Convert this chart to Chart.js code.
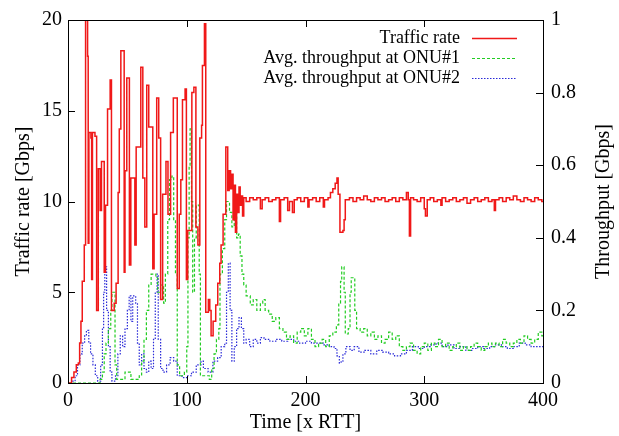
<!DOCTYPE html>
<html>
<head>
<meta charset="utf-8">
<script src="https://cdn.jsdelivr.net/npm/chart.js@4"></script>
<style>
  html, body { margin: 0; padding: 0; background: #fff; }
</style>
</head>
<body>
<canvas id="trafficChart" width="619" height="436"></canvas>
<script>
// Traffic rate (left axis, Gbps) - step points
const redT = [
  0, 3, 5, 7, 8.7, 9.8, 10.9, 12, 13.7, 14.8,
  16.5, 17, 17.6, 19.3, 19.9, 20.6, 22.7, 24.1, 25.5, 27.1,
  28.2, 30.5, 31.6, 33.3, 35.5, 36.6, 38.9, 40.5, 42.2, 43.2,
  44.5, 47.3, 48, 49.5, 51.7, 52.9, 56.3, 57.4, 61.3, 63,
  64.7, 66.3, 68, 71.4, 72.5, 74.7, 76.4, 78, 79.7, 82.5,
  84.2, 86.4, 88.7, 92, 93.7, 95, 96.4, 98.6, 99.7, 100.8,
  104.3, 106, 107.7, 109.4, 111, 112.5, 113.2, 114.9, 116, 118.2,
  119.4, 120.5, 122.2, 124.4, 126.1, 127.8, 128.9, 130.6, 132.9, 134.5,
  135.7, 136.9, 138, 139, 140, 141, 142, 143, 144, 145,
  146, 147, 148, 150, 153, 156, 159, 162, 163.5, 166,
  169, 172, 175, 178, 179, 182, 185, 186.5, 189, 190.5,
  193, 196, 199, 202, 203, 206, 209, 212, 215, 216,
  219, 221, 223, 225, 226.5, 227.5, 229, 231.5, 232.5, 233.5,
  237, 240, 243, 246, 249, 252, 255, 258, 261, 264,
  267, 270, 273, 276, 279, 282, 285, 286.5, 287.5, 288.5,
  291, 294, 297, 300, 301, 302.5, 305, 308, 311, 314,
  315, 318, 321, 324, 327, 330, 333, 336, 339, 342,
  345, 348, 351, 354, 357, 359, 360, 363, 366, 369,
  372, 375, 378, 381, 384, 387, 390, 393, 396, 399, 400
];
const redV = [
  0, 0.3, 0.6, 1.0, 1.1, 2.2, 3.4, 5.6, 7.6, 20,
  18, 7.7, 13.8, 13.5, 5.7, 13.8, 13.6, 4.0, 11.8, 9.5,
  12.2, 6.1, 9.8, 15.1, 16.7, 4.0, 4.4, 5.5, 10.5, 14,
  18.3, 6.1, 11.7, 16.8, 6.5, 11.3, 7.6, 13, 17.4, 11.3,
  8.6, 16.4, 14.1, 6.3, 9.3, 15.7, 13.5, 4.6, 10.4, 12.2,
  9.3, 13.8, 15.7, 5.2, 9.3, 11.2, 15.6, 16.2, 5.7, 8.4,
  16, 16.3, 8.6, 7.6, 13.5, 14.2, 17.5, 19.8, 3.9, 4.6,
  4.0, 2.6, 3.4, 4.3, 5.5, 6.6, 7.6, 9.3, 13, 10.6,
  11.7, 10.7, 11.5, 9.0, 10.9, 8.3, 10.4, 9.4, 10.8, 9.8,
  10.3, 9.2, 10.2, 10.0, 10.2, 10.1, 10.2, 9.6, 10.1, 10.2,
  10.0, 10.1, 10.2, 8.9, 10.1, 10.2, 9.5, 10.0, 9.4, 10.1,
  10.2, 10.0, 10.2, 9.7, 10.1, 10.2, 10.0, 10.2, 9.7, 10.1,
  10.2, 10.5, 10.7, 11.0, 11.3, 10.4, 8.3, 8.4, 9.0, 10.1,
  10.2, 10.0, 10.2, 10.1, 10.3, 10.1, 10.0, 10.2, 10.1, 10.2,
  10.0, 10.1, 10.2, 10.0, 10.2, 10.1, 10.5, 10.1, 8.1, 10.2,
  10.1, 10.0, 10.2, 9.6, 9.2, 10.1, 10.2, 10.0, 10.1, 9.8,
  10.2, 10.0, 10.1, 10.2, 10.0, 10.1, 10.2, 9.9, 10.1, 10.2,
  10.0, 10.1, 10.2, 10.0, 10.1, 9.5, 10.1, 10.2, 10.0, 10.2,
  10.1, 10.3, 10.1, 10.0, 10.2, 10.1, 10.0, 10.2, 10.1, 10.0, 10.0
];

// Avg. throughput at ONU#1 (right axis, Gbps)
const onu1T = [
  0, 27, 29, 30.5, 32, 34, 36, 37, 39.6, 41,
  48, 53, 60, 62, 64, 66, 68, 70, 74, 75.5,
  78, 80.5, 82, 84, 85.5, 87.5, 89, 90.5, 92, 94,
  98, 100, 101, 102, 102.8, 104, 105, 106.5, 108, 110.5,
  111.5, 119, 121, 123, 125, 127, 128, 130, 132, 133.5,
  136, 138, 140, 142, 143.5, 145, 146.5, 148, 150, 153.5,
  156, 159, 162, 164, 166, 169, 172, 175, 178, 181,
  184, 187, 190, 193, 196, 199, 202, 205, 208, 211,
  214, 217, 220, 223, 226, 228, 229.5, 230.5, 232.5, 233.5,
  236, 237.5, 238.5, 241.5, 243, 246, 249, 252, 255, 258,
  261, 264, 267, 270, 273, 276, 279, 282, 285, 288,
  291, 294, 297, 300, 303, 306, 309, 312, 315, 318,
  321, 324, 327, 330, 333, 336, 339, 342, 345, 348,
  351, 354, 357, 360, 363, 366, 369, 372, 375, 378,
  381, 384, 387, 390, 393, 396, 399, 400
];
const onu1V = [
  0, 0.01, 0.03, 0.08, 0.11, 0.15, 0.2, 0.25, 0.05, 0.01,
  0.03, 0.01, 0.02, 0.06, 0.12, 0.2, 0.27, 0.3, 0.29, 0.25,
  0.27, 0.22, 0.3, 0.45, 0.56, 0.57, 0.45, 0.3, 0.05, 0.02,
  0.03, 0.1, 0.4, 0.6, 0.7, 0.5, 0.25, 0.4, 0.49, 0.3,
  0.02, 0.01, 0.04, 0.08, 0.12, 0.15, 0.3, 0.37, 0.45, 0.5,
  0.47, 0.43, 0.47, 0.4, 0.41, 0.35, 0.3, 0.27, 0.24, 0.215,
  0.23, 0.2, 0.22, 0.23, 0.2, 0.19, 0.17, 0.18, 0.15, 0.14,
  0.12, 0.13, 0.11, 0.14, 0.15, 0.13, 0.15, 0.12, 0.1, 0.11,
  0.12, 0.1, 0.13, 0.14, 0.16, 0.22, 0.28, 0.32, 0.25, 0.135,
  0.15, 0.25, 0.29, 0.2, 0.15, 0.14, 0.15, 0.13, 0.14, 0.12,
  0.13, 0.11, 0.12, 0.14, 0.12, 0.13, 0.1, 0.09, 0.1, 0.11,
  0.09, 0.08, 0.1, 0.11, 0.09, 0.11, 0.1, 0.12, 0.1, 0.11,
  0.09, 0.1, 0.11, 0.09, 0.1, 0.09, 0.1, 0.11, 0.1, 0.09,
  0.1, 0.11, 0.1, 0.11, 0.1, 0.12, 0.11, 0.1, 0.11, 0.12,
  0.11, 0.13, 0.12, 0.11, 0.12, 0.14, 0.13, 0.13
];

// Avg. throughput at ONU#2 (right axis, Gbps)
const onu2T = [
  0, 3, 6, 8, 10, 12, 14, 15.5, 17.5, 19,
  21, 23, 25, 27.5, 29, 30, 31, 32.5, 34, 35.5,
  37, 40, 42, 44, 46, 48, 50, 51.5, 53, 54.5,
  57, 58.5, 60, 62, 64, 66, 68, 70, 72, 73.5,
  75, 76, 78, 80, 83, 86, 89, 92, 96, 100,
  104, 108, 112, 114, 118, 122, 126, 129, 132, 133.5,
  135, 136.5, 138, 140, 142, 144, 146, 148, 150, 153,
  156, 159, 162, 165, 170, 175, 180, 185, 190, 195,
  200, 205, 210, 215, 220, 224, 226.5, 228.5, 230, 231.5,
  234, 237.5, 241, 245, 250, 255, 260, 265, 270, 275,
  280, 285, 290, 295, 300, 305, 310, 315, 320, 325,
  330, 335, 340, 345, 350, 355, 360, 365, 370, 375,
  380, 385, 390, 395, 400
];
const onu2V = [
  0, 0.005, 0.02, 0.05, 0.08, 0.11, 0.13, 0.145, 0.11, 0.08,
  0.05, 0.02, 0.005, 0.05, 0.15, 0.25, 0.32, 0.2, 0.1, 0.03,
  0.005, 0.02, 0.08, 0.13, 0.1, 0.15, 0.2, 0.24, 0.17, 0.24,
  0.22, 0.11, 0.05, 0.08, 0.04, 0.03, 0.06, 0.04, 0.12, 0.25,
  0.3, 0.12, 0.04, 0.03, 0.05, 0.07, 0.06, 0.02, 0.015, 0.02,
  0.03, 0.05, 0.06, 0.04, 0.03, 0.06, 0.07, 0.1, 0.11, 0.25,
  0.33, 0.2, 0.06, 0.1, 0.15, 0.18, 0.15, 0.11, 0.12, 0.1,
  0.12, 0.11, 0.125, 0.12, 0.115, 0.12, 0.115, 0.12, 0.115, 0.11,
  0.115, 0.11, 0.11, 0.105, 0.1, 0.095, 0.075, 0.055, 0.06, 0.08,
  0.1, 0.09, 0.1, 0.085, 0.09, 0.08, 0.09, 0.085, 0.08, 0.075,
  0.08, 0.09, 0.1, 0.095, 0.1, 0.105, 0.11, 0.1, 0.105, 0.095,
  0.1, 0.09, 0.095, 0.1, 0.095, 0.1, 0.105, 0.1, 0.095, 0.1,
  0.11, 0.105, 0.1, 0.1, 0.1
];

const xTicks = [0, 100, 200, 300, 400];
const serif = 'Liberation Serif, Times New Roman, serif';
const rightTitle = 'Throughput [Gbps]';

const toPoints = (ts, vs) => ts.map((t, i) => ({ x: t, y: vs[i] }));

// gnuplot-style frame, inward ticks, key and right-hand axis title
const framePlugin = {
  id: 'frame',
  afterDatasetsDraw(chart) {
    const { ctx, chartArea: a, scales } = chart;
    const tl = 7;
    ctx.save();
    ctx.strokeStyle = '#000';
    ctx.lineWidth = 1;
    ctx.strokeRect(a.left + 0.5, a.top + 0.5, a.right - a.left, a.bottom - a.top);
    ctx.beginPath();
    scales.x.ticks.forEach(t => {
      const px = Math.round(scales.x.getPixelForValue(t.value)) + 0.5;
      ctx.moveTo(px, a.bottom); ctx.lineTo(px, a.bottom - tl);
      ctx.moveTo(px, a.top); ctx.lineTo(px, a.top + tl);
    });
    scales.y.ticks.forEach(t => {
      const py = Math.round(scales.y.getPixelForValue(t.value)) + 0.5;
      ctx.moveTo(a.left, py); ctx.lineTo(a.left + tl, py);
    });
    scales.y1.ticks.forEach(t => {
      const py = Math.round(scales.y1.getPixelForValue(t.value)) + 0.5;
      ctx.moveTo(a.right, py); ctx.lineTo(a.right - tl, py);
    });
    ctx.stroke();

    // key, top right inside the plot
    ctx.font = '18px ' + serif;
    ctx.fillStyle = '#000';
    ctx.textAlign = 'right';
    ctx.textBaseline = 'middle';
    chart.data.datasets.forEach((ds, i) => {
      const y = a.top + 18 + i * 20;
      ctx.fillText(ds.label, a.right - 83, y);
      ctx.beginPath();
      ctx.strokeStyle = ds.borderColor;
      ctx.lineWidth = ds.borderWidth;
      ctx.setLineDash(ds.borderDash || []);
      ctx.moveTo(a.right - 71, Math.round(y) + 0.5);
      ctx.lineTo(a.right - 26, Math.round(y) + 0.5);
      ctx.stroke();
    });

    // right axis title, reading bottom to top like the left one
    ctx.setLineDash([]);
    ctx.font = '20px ' + serif;
    ctx.textAlign = 'center';
    ctx.translate(604, (a.top + a.bottom) / 2);
    ctx.rotate(-Math.PI / 2);
    ctx.fillText(rightTitle, 0, 0);
    ctx.restore();
  }
};

const ctx = document.getElementById('trafficChart').getContext('2d');
new Chart(ctx, {
  type: 'line',
  data: {
    datasets: [
      {
        label: 'Traffic rate',
        data: toPoints(redT, redV),
        yAxisID: 'y',
        borderColor: '#f01818',
        borderWidth: 1.5,
        stepped: true,
        pointRadius: 0
      },
      {
        label: 'Avg. throughput at ONU#1',
        data: toPoints(onu1T, onu1V),
        yAxisID: 'y1',
        borderColor: '#22cc22',
        borderWidth: 1.2,
        borderDash: [3, 2],
        stepped: true,
        pointRadius: 0
      },
      {
        label: 'Avg. throughput at ONU#2',
        data: toPoints(onu2T, onu2V),
        yAxisID: 'y1',
        borderColor: '#2a2ad8',
        borderWidth: 1.2,
        borderDash: [1.5, 1.5],
        stepped: true,
        pointRadius: 0
      }
    ]
  },
  options: {
    responsive: false,
    animation: false,
    devicePixelRatio: 1,
    layout: { padding: { top: 12, left: 0, right: 0, bottom: 0 } },
    plugins: { legend: { display: false }, tooltip: { enabled: false } },
    scales: {
      x: {
        type: 'linear',
        min: 0,
        max: 400,
        afterBuildTicks: s => { s.ticks = xTicks.map(v => ({ value: v })); },
        ticks: { font: { family: serif, size: 20 }, color: '#000', padding: 6, maxRotation: 0 },
        grid: { display: false, drawTicks: false },
        border: { display: false },
        title: { display: true, text: 'Time [x RTT]', font: { family: serif, size: 20 }, color: '#000', padding: { top: 0, bottom: 1 } },
        afterFit: s => { s.height = 53; }
      },
      y: {
        position: 'left',
        min: 0,
        max: 20,
        ticks: { stepSize: 5, font: { family: serif, size: 20 }, color: '#000', padding: 6 },
        grid: { display: false, drawTicks: false },
        border: { display: false },
        title: { display: true, text: 'Traffic rate [Gbps]', font: { family: serif, size: 20 }, color: '#000', padding: { top: 12, bottom: 0 } },
        afterFit: s => { s.width = 68; }
      },
      y1: {
        position: 'right',
        min: 0,
        max: 1,
        ticks: {
          stepSize: 0.2,
          font: { family: serif, size: 20 },
          color: '#000',
          padding: 8,
          callback: v => String(Number(v.toFixed(1)))
        },
        grid: { display: false, drawTicks: false },
        border: { display: false },
        afterFit: s => { s.width = 76; }
      }
    }
  },
  plugins: [framePlugin]
});
</script>
</body>
</html>
